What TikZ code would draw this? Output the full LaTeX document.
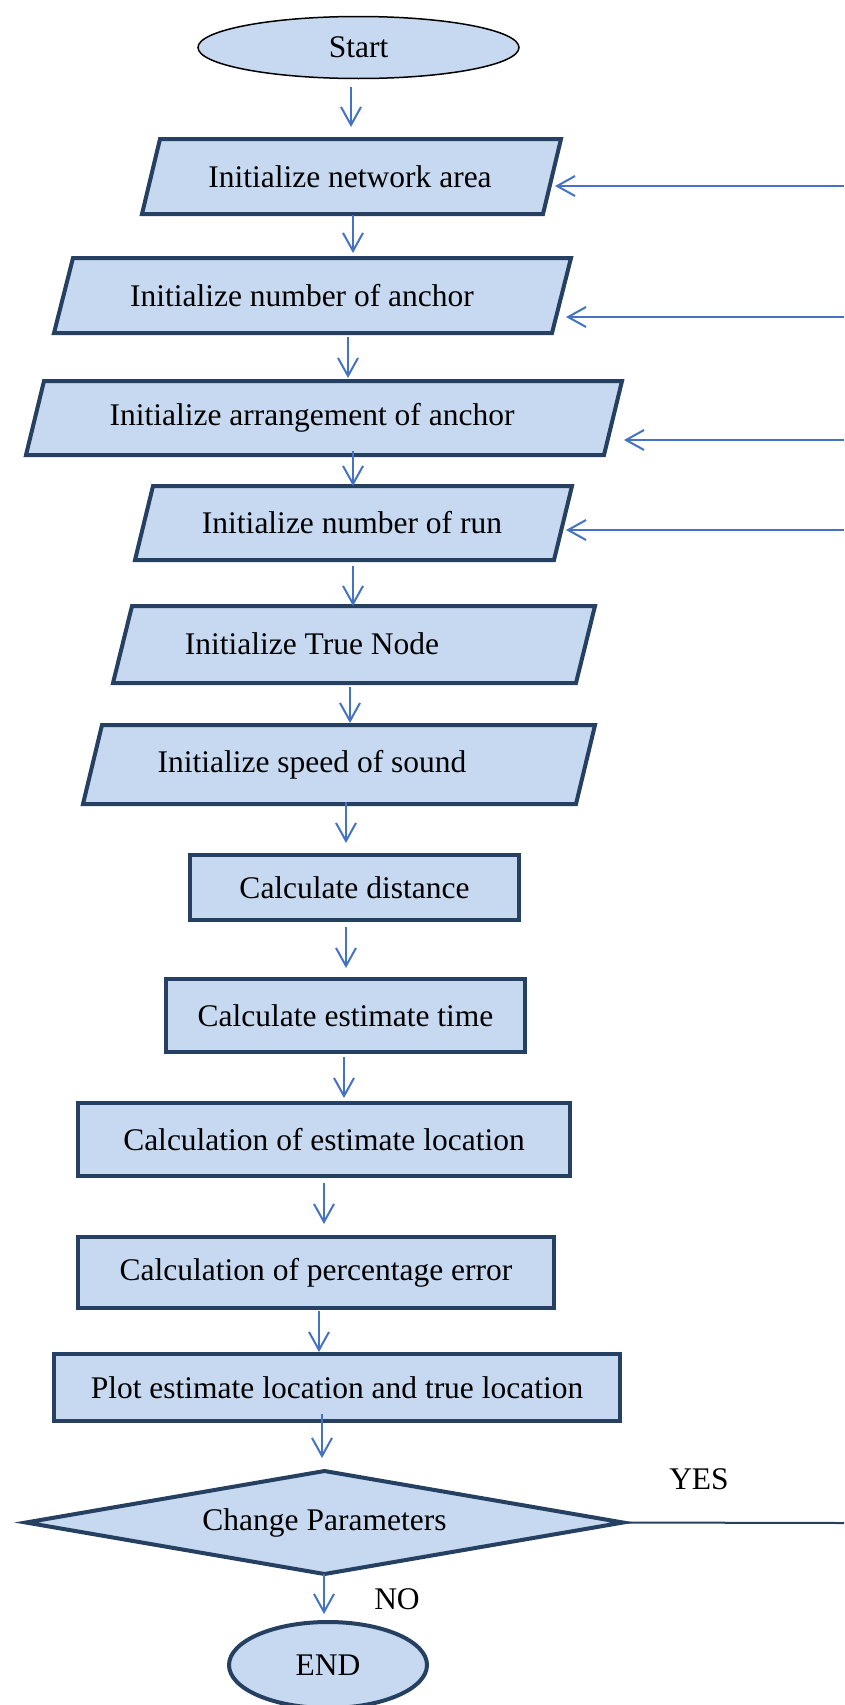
\documentclass[tikz,border=0pt]{standalone}
\usepackage{fontspec}
\setmainfont{Liberation Serif}
\usetikzlibrary{arrows.meta,shapes.geometric}
\definecolor{boxfill}{RGB}{198,217,240}
\definecolor{boxline}{RGB}{37,64,97}
\definecolor{arrowc}{RGB}{68,114,196}
\newcommand\pgshape[6]{%
  \node[pgarea, minimum width=#4pt, minimum height=#5pt] (#1) at (#2,#3) {};
  \draw[pgline] ([xshift=#6pt]#1.north west) -- (#1.north east) -- ([xshift=-#6pt]#1.south east) -- (#1.south west) -- cycle;}
\newcommand\vconn[5]{\draw[arr, shorten <=#4pt, shorten >=#5pt] (#1.south -| #3,0) -- (#2.north -| #3,0);}
\begin{document}
\begin{tikzpicture}[x=1pt,y=-1pt,
  every node/.style={font=\fontsize{31.5}{36}\selectfont, inner sep=0pt, outer sep=0pt},
  pgarea/.style={rectangle, draw=none},
  pgline/.style={fill=boxfill, draw=boxline, line width=4pt, line join=miter},
  procbox/.style={rectangle, fill=boxfill, draw=boxline, line width=4pt},
  decbox/.style={diamond, aspect=5.6, fill=boxfill, draw=boxline, line width=4pt},
  startbox/.style={ellipse, fill=boxfill, draw=black, line width=1.5pt},
  endbox/.style={ellipse, fill=boxfill, draw=boxline, line width=4pt},
  arr/.style={draw=arrowc, line width=2pt, -{Straight Barb[length=18pt,width=20pt]}},
  yesline/.style={draw=boxline, line width=2pt}]
\useasboundingbox (0,0) rectangle (844,1705);

% start
\node[startbox, minimum width=321pt, minimum height=62pt] (s) at (358.5,47.5) {Start};

% parallelograms
\pgshape{b1}{351.5}{176.5}{419}{75}{18}
\node (t1) at (350,177) {Initialize network area};
\pgshape{b2}{312.5}{295.5}{517}{75}{19}
\node (t2) at (302,296) {Initialize number of anchor};
\pgshape{b3}{324}{418}{596}{74}{18}
\node (t3) at (312,418) {Initialize arrangement of anchor};
\pgshape{b4}{353.5}{523}{437}{74}{18}
\node (t4) at (352,523) {Initialize number of run};
\pgshape{b5}{354}{644.5}{482}{77}{19}
\node (t5) at (312,644) {Initialize True Node};
\pgshape{b6}{339}{764.5}{512}{79}{19}
\node (t6) at (312,765) {Initialize speed of sound};

% process boxes
\node[procbox, minimum width=329pt, minimum height=65pt] (r1) at (354.5,887.5) {Calculate distance};
\node[procbox, minimum width=359pt, minimum height=73pt] (r2) at (345.5,1015.5) {Calculate estimate time};
\node[procbox, minimum width=492pt, minimum height=73pt] (r3) at (324,1139.5) {Calculation of estimate location};
\node[procbox, minimum width=476pt, minimum height=71pt] (r4) at (316,1272.5) {Calculation of percentage error};
\node[procbox, minimum width=566pt, minimum height=67pt] (r5) at (337,1387.5) {Plot estimate location and true location};

% decision and end
\node[decbox, minimum width=597pt, minimum height=103pt] (d) at (324.5,1522.5) {Change Parameters};
\node[endbox, minimum width=198pt, minimum height=86pt] (e) at (328,1665) {END};

% labels
\node (yes) at (699,1479) {YES};
\node (no) at (397,1599) {NO};

% vertical connectors
\vconn{s}{b1}{351}{8}{12}
\vconn{b1}{b2}{353}{1}{5}
\vconn{b2}{b3}{348}{4}{3}
\vconn{b3}{b4}{353}{-4}{0}
\vconn{b4}{b5}{353}{6}{0}
\vconn{b5}{b6}{350}{4}{2}
\vconn{b6}{r1}{346}{-2}{12}
\vconn{r1}{r2}{346}{7}{11}
\vconn{r2}{r3}{344}{5}{5}
\vconn{r3}{r4}{324}{7}{13}
\vconn{r4}{r5}{319}{3}{2}
\vconn{r5}{d}{322}{-7}{13}
\vconn{d}{e}{324}{0}{8}

% feedback connectors from the right edge
\coordinate (ra1) at (844,186);
\coordinate (ra2) at (844,317);
\coordinate (ra3) at (844,440);
\coordinate (ra4) at (844,530);
\draw[arr] (ra1) -- ([xshift=-6pt]b1.east |- ra1);
\draw[arr] (ra2) -- ([xshift=-5pt]b2.east |- ra2);
\draw[arr] (ra3) -- ([xshift=2pt]b3.east |- ra3);
\draw[arr] (ra4) -- ([xshift=-6pt]b4.east |- ra4);

% YES line
\coordinate (yend) at (844,1523);
\draw[yesline] (d.east) -- (yend);
\end{tikzpicture}
\end{document}
